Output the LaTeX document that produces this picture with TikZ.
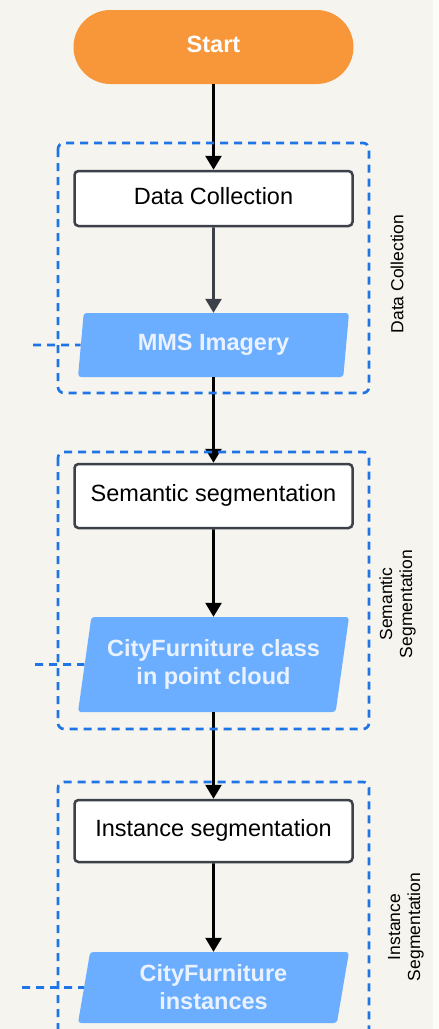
\documentclass[tikz,border=0pt]{standalone}
\usepackage{fontspec}
\setmainfont{Liberation Sans}
\usetikzlibrary{shapes.geometric,arrows.meta}

\definecolor{paper}{HTML}{F5F4EE}
\definecolor{startorange}{HTML}{F8963A}
\definecolor{datablue}{HTML}{6BAEFF}
\definecolor{groupblue}{HTML}{1F74E6}
\definecolor{boxedge}{HTML}{3B4049}
\definecolor{datatext}{HTML}{EAF2FF}

\tikzset{
  boxtext/.style={text height=17pt, text depth=6pt},
  terminal/.style={rectangle, rounded corners=37pt, fill=startorange,
    minimum width=280pt, minimum height=74pt, text=white, boxtext,
    font=\fontsize{23.5}{27}\selectfont\bfseries},
  process/.style={rectangle, rounded corners=4pt, draw=boxedge, line width=2.5pt,
    fill=white, minimum width=278pt, inner sep=0pt, boxtext,
    font=\fontsize{23.5}{27}\selectfont},
  dataio/.style={trapezium, trapezium left angle=75, trapezium right angle=105,
    trapezium stretches body, fill=datablue, rounded corners=3pt,
    minimum width=271pt, inner sep=0pt, text=datatext, align=center,
    font=\fontsize{23.5}{28}\selectfont\bfseries},
  group/.style={draw=groupblue, line width=2.7pt, dash pattern=on 8pt off 6pt,
    rounded corners=6pt},
  flow/.style={-{Triangle[length=14pt,width=16pt]}, line width=2.6pt, draw=black},
  grayflow/.style={flow, draw=boxedge},
  link/.style={draw=groupblue, line width=2.7pt, dash pattern=on 8pt off 6pt},
  sidelabel/.style={rotate=90, align=center, font=\fontsize{17.5}{20}\selectfont}
}

\begin{document}
\begin{tikzpicture}[x=1pt, y=-1pt]
  \useasboundingbox (0,0) rectangle (439,1029);
  \fill[white!60!paper] (0,0) rectangle (439,1029);
  \fill[paper] (0,0) rectangle (433,1029);

  % flow steps
  \node[terminal] (start) at (213.5,47) {Start};
  \node[process, minimum height=55pt] (dc) at (213.5,198.5) {Data Collection};
  \node[dataio, minimum height=64pt] (mms) at (213.5,345) {MMS Imagery};
  \node[process, minimum height=64pt] (sem) at (213.5,496) {Semantic segmentation};
  \node[dataio, minimum height=95pt] (cls) at (213.5,664.5) {CityFurniture class\\in point cloud};
  \node[process, minimum height=62pt] (ins) at (213.5,831) {Instance segmentation};
  \node[dataio, minimum height=71pt] (inst) at (213.5,987.5) {CityFurniture\\instances};

  % connectors
  \draw[flow] (start.south) -- (dc.north);
  \draw[grayflow] (dc.south) -- (mms.north);
  \draw[flow] (mms.south) -- (sem.north);
  \draw[flow] (sem.south) -- (cls.north);
  \draw[flow] (cls.south) -- (ins.north);
  \draw[flow] (ins.south) -- (inst.north);

  % stage groups
  \draw[group] (58,143) rectangle (369,393);
  \draw[group] (58,452) rectangle (369,729);
  \draw[group] (58,1045) -- (58,782) -- (369,782) -- (369,1045);

  % stage labels
  \node[sidelabel] (lab1) at (397,274) {Data Collection};
  \node[sidelabel] (lab2) at (397.5,604) {Semantic\\Segmentation};
  \node[sidelabel] (lab3) at (406,927) {Instance\\Segmentation};

  % external data links
  \coordinate (in1) at (33,345);
  \coordinate (in2) at (35,664.5);
  \coordinate (in3) at (22,987.5);
  \draw[link] (in1) -- (mms.west);
  \draw[link] (in2) -- (cls.west);
  \draw[link] (in3) -- (inst.west);
\end{tikzpicture}
\end{document}
